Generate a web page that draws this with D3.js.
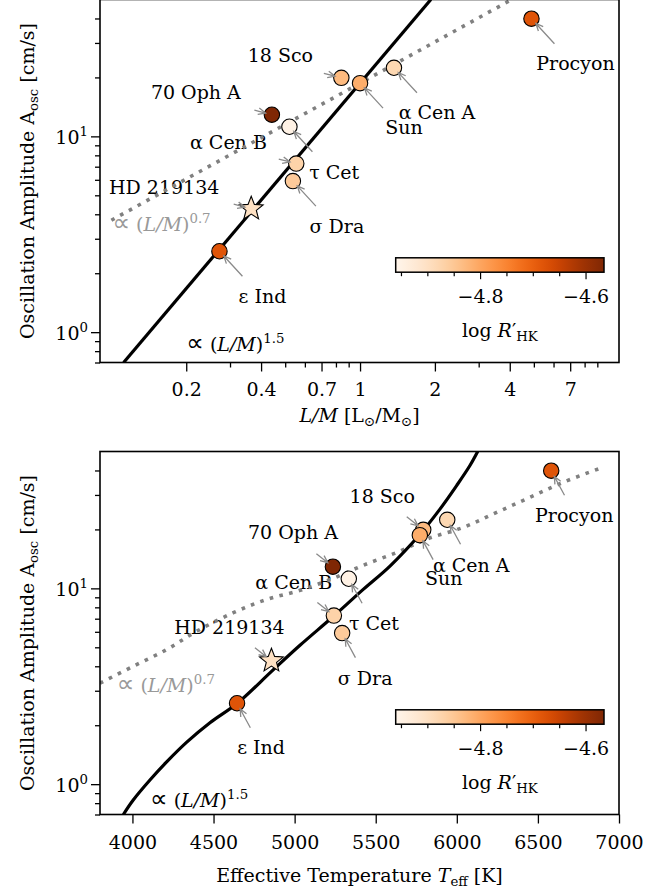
<!DOCTYPE html>
<html>
<head>
<meta charset="utf-8">
<script src="https://cdn.jsdelivr.net/npm/d3@7"></script>
<style>
  body { margin: 0; background: #fff; }
  svg text { font-family: "DejaVu Serif", serif; }
</style>
</head>
<body>
<svg id="chart" width="668" height="893"></svg>
<script>
// 1: DATA
const starNames = ["70 Oph A", "α Cen B", "τ Cet", "σ Dra", "HD 219134", "ε Ind", "18 Sco", "Sun", "α Cen A", "Procyon"];
const lumToMass = [0.442, 0.520, 0.554, 0.537, 0.365, 0.272, 0.841, 1.00, 1.369, 4.89];
const teffK     = [5236, 5334, 5242, 5293, 4857, 4645, 5793, 5772, 5941, 6582];
const ampOsc    = [12.9, 11.2, 7.26, 5.91, 4.27, 2.59, 19.9, 18.7, 22.4, 39.9];
const logRHK    = [-4.56, -4.95, -4.87, -4.855, -4.90, -4.68, -4.83, -4.81, -4.88, -4.68];

// scaling relations vs L/M (top panel)
const steepLM    = [0.112, 1.927];
const steepAmp   = [0.70, 50];
const shallowLM  = [0.10, 4.08];
const shallowAmp = [3.73, 50];

// same relations vs Teff (bottom panel)
const steepTeff    = [3944, 4005, 4108, 4211, 4335, 4478, 4647, 4861, 5033, 5238, 5423, 5588, 5773, 5896, 5999, 6081, 6132];
const steepAmpT    = [0.70, 0.83, 1.05, 1.30, 1.64, 2.06, 2.59, 3.79, 5.12, 7.18, 9.88, 13.0, 18.9, 25.4, 33.5, 42.4, 50.6];
const shallowTeff  = [3800, 4005, 4211, 4396, 4622, 4828, 5034, 5238, 5423, 5629, 5814, 6040, 6246, 6451, 6657, 6903];
const shallowAmpT  = [3.28, 4.00, 4.87, 6.04, 7.51, 8.78, 9.77, 11.25, 13.12, 15.25, 17.84, 20.48, 24.44, 29.18, 34.84, 41.6];

// tick values
const ampMajor  = [1, 10];
const ampMinor  = [0.7, 0.8, 0.9, 2, 3, 4, 5, 6, 7, 8, 9, 20, 30, 40];
const lmMajor   = [0.2, 0.4, 0.7, 1, 2, 4, 7];
const lmMinor   = [0.3, 0.5, 0.6, 0.8, 0.9, 3, 5, 6, 8, 9];
const teffTicks = [4000, 4500, 5000, 5500, 6000, 6500, 7000];
const cbMajor   = [-4.8, -4.6];
const cbMinor   = [-4.95, -4.9, -4.85, -4.75, -4.7, -4.65];
const cbDomain  = [-4.96, -4.565];

// 2: LAYOUT
const plotLeft = 100, plotRight = 619, panelH = 363;
const fs = 19;
const arrowUL = ["70 Oph A", "τ Cet", "HD 219134", "18 Sco"];

// label centre offsets (px) from each marker, per panel
const labelOffTop = [[-76, -16], [-61, 22], [38, 15], [44, 52], [-87, -15], [43, 52], [-61, -16], [44, 51], [43, 51], [44, 51]];
const labelOffBot = [[-40, -28], [-55, 10], [40, 14], [23, 52], [-42, -27], [24, 51], [-41, -27], [24, 50], [24, 52], [23, 51]];

const svg = d3.select("#chart");
const color = d3.scaleSequential(d3.interpolateOranges).domain(cbDomain).clamp(true);

const stars = starNames.map((name, i) => ({
	name, lm: lumToMass[i], teff: teffK[i], amp: ampOsc[i], rhk: logRHK[i]
}));

// text with italic / super / subscript parts
function richText(parent, parts, size) {
	const t = parent.append("text").style("font-size", size + "px");
	let shift = 0;
	parts.forEach(([s, kind, dx]) => {
		const ts = t.append("tspan").text(s);
		let target = 0, fsz = size;
		if (kind === "sup") { target = -0.42 * size; fsz = 0.7 * size; }
		if (kind === "sub") { target = 0.22 * size; fsz = 0.7 * size; }
		if (kind === "it") ts.style("font-style", "italic");
		if (kind === "prop") { fsz = 1.3 * size; ts.style("font-family", "DejaVu Sans, sans-serif"); }
		ts.style("font-size", fsz + "px");
		if (dx) ts.attr("dx", dx);
		if (target !== shift) { ts.attr("dy", target - shift); shift = target; }
	});
	return t;
}

function starPath(R, r) {
	const pts = [];
	for (let k = 0; k < 10; k++) {
		const a = -Math.PI / 2 + k * Math.PI / 5;
		const rad = k % 2 ? r : R;
		pts.push([rad * Math.cos(a), rad * Math.sin(a)]);
	}
	return "M" + pts.map(p => p.join(",")).join("L") + "Z";
}

const panels = [
	{
		top: -0.5, key: "lm",
		x: d3.scaleLog().domain([0.09, 11]).range([plotLeft, plotRight]),
		steep: steepLM.map((v, i) => [v, steepAmp[i]]),
		shallow: shallowLM.map((v, i) => [v, shallowAmp[i]]),
		labelOff: labelOffTop,
		arrLR: [23, 25], arrUL: [-17.5, -4.5],
		greyLab: [0.101, 3.27], blackLab: [0.2, 0.8],
		xlabelY: 421.5
	},
	{
		top: 451.5, key: "teff",
		x: d3.scaleLinear().domain([3800, 7000]).range([plotLeft, plotRight]),
		steep: steepTeff.map((v, i) => [v, steepAmpT[i]]),
		shallow: shallowTeff.map((v, i) => [v, shallowAmpT[i]]),
		labelOff: labelOffBot,
		arrLR: [13.3, 24.5], arrUL: [-16.5, -13],
		greyLab: [3903, 2.97], blackLab: [4108, 0.767],
		xlabelY: 881.5
	}
];

panels.forEach((p, pi) => {
	const x = p.x;
	const y = d3.scaleLog().domain([0.7, 50]).range([p.top + panelH, p.top]);
	const bottom = p.top + panelH;
	const g = svg.append("g");

	g.append("clipPath").attr("id", "clip" + pi)
		.append("rect")
			.attr("x", plotLeft).attr("y", p.top)
			.attr("width", plotRight - plotLeft).attr("height", panelH);

	// 3: STAR LABELS (under the lines, as in the original)
	stars.forEach((s, i) => {
		g.append("text")
			.attr("x", x(s[p.key]) + p.labelOff[i][0])
			.attr("y", y(s.amp) + p.labelOff[i][1])
			.attr("text-anchor", "middle")
			.style("font-size", fs + "px")
			.text(s.name);
	});

	// relation labels
	richText(g, [["∝", "prop"], [" ("], ["L/M", "it"], [")"], ["0.7", "sup"]], fs)
		.attr("x", x(p.greyLab[0])).attr("y", y(p.greyLab[1]))
		.style("fill", "#999");
	richText(g, [["∝", "prop"], [" ("], ["L/M", "it"], [")"], ["1.5", "sup"]], fs)
		.attr("x", x(p.blackLab[0])).attr("y", y(p.blackLab[1]))
		.style("fill", "#000");

	// 4: RELATION CURVES
	const line = d3.line()
		.x(d => x(d[0]))
		.y(d => y(d[1]))
		.curve(d3.curveCatmullRom.alpha(0.5));

	g.append("path")
		.datum(p.shallow)
		.attr("clip-path", `url(#clip${pi})`)
		.attr("d", line)
		.attr("fill", "none")
		.attr("stroke", "#808080")
		.attr("stroke-width", 3.6)
		.attr("stroke-dasharray", "3.6,6.4");

	g.append("path")
		.datum(p.steep)
		.attr("clip-path", `url(#clip${pi})`)
		.attr("d", line)
		.attr("fill", "none")
		.attr("stroke", "#000")
		.attr("stroke-width", 3.2);

	// 5: MARKERS
	stars.forEach(s => {
		const cx = x(s[p.key]), cy = y(s.amp);
		if (s.name === "HD 219134") {
			g.append("path")
				.attr("d", starPath(12.5, 5.4))
				.attr("transform", `translate(${cx},${cy})`)
				.attr("fill", color(s.rhk))
				.attr("stroke", "#000")
				.attr("stroke-width", 1.1);
		} else {
			g.append("circle")
				.attr("cx", cx).attr("cy", cy).attr("r", 7.7)
				.attr("fill", color(s.rhk))
				.attr("stroke", "#000")
				.attr("stroke-width", 1.1);
		}
	});

	// 6: ARROWS
	stars.forEach(s => {
		const cx = x(s[p.key]), cy = y(s.amp);
		const v = arrowUL.includes(s.name) ? p.arrUL : p.arrLR;
		const len = Math.hypot(v[0], v[1]);
		const ux = v[0] / len, uy = v[1] / len;
		const hx = cx + ux * 6.5, hy = cy + uy * 6.5;
		const tx = cx + v[0], ty = cy + v[1];
		const hl = 8, ang = 0.42;
		const wing = a => [hx + hl * (ux * Math.cos(a) - uy * Math.sin(a)), hy + hl * (ux * Math.sin(a) + uy * Math.cos(a))];
		const w1 = wing(ang), w2 = wing(-ang);
		g.append("path")
			.attr("d", `M${tx},${ty}L${hx},${hy}M${w1[0]},${w1[1]}L${hx},${hy}L${w2[0]},${w2[1]}`)
			.attr("fill", "none")
			.attr("stroke", "#8a8a8a")
			.attr("stroke-width", 1.3);
	});

	// 7: AXES
	const yMaj = g.append("g").attr("transform", `translate(${plotLeft},0)`)
		.call(d3.axisLeft(y).tickValues(ampMajor).tickSize(9).tickFormat(""));
	const yMin = g.append("g").attr("transform", `translate(${plotLeft},0)`)
		.call(d3.axisLeft(y).tickValues(ampMinor).tickSize(5).tickFormat(""));

	ampMajor.forEach(v => {
		richText(g, [["10"], [String(Math.round(Math.log10(v))), "sup"]], fs)
			.attr("x", plotLeft - 12).attr("y", y(v) + 8)
			.attr("text-anchor", "end");
	});

	let xMaj, xMin;
	if (p.key === "lm") {
		xMaj = g.append("g").attr("transform", `translate(0,${bottom})`)
			.call(d3.axisBottom(x).tickValues(lmMajor).tickSize(9).tickPadding(11).tickFormat(d3.format("")));
		xMin = g.append("g").attr("transform", `translate(0,${bottom})`)
			.call(d3.axisBottom(x).tickValues(lmMinor).tickSize(5).tickFormat(""));
	} else {
		xMaj = g.append("g").attr("transform", `translate(0,${bottom})`)
			.call(d3.axisBottom(x).tickValues(teffTicks).tickSize(9).tickPadding(12).tickFormat(d3.format("d")));
	}

	[yMaj, yMin, xMaj, xMin].forEach(a => {
		if (!a) return;
		a.select(".domain").remove();
		a.selectAll("line").attr("stroke", "#000").attr("stroke-width", 1.3);
		a.selectAll("text")
			.style("font-family", "DejaVu Serif, serif")
			.style("font-size", fs + "px")
			.attr("fill", "#000");
	});

	// spines
	g.append("rect")
		.attr("x", plotLeft).attr("y", p.top)
		.attr("width", plotRight - plotLeft).attr("height", panelH)
		.attr("fill", "none")
		.attr("stroke", "#000")
		.attr("stroke-width", 1.6);

	// axis labels
	const xl = p.key === "lm"
		? [["L/M", "it"], [" [L"], ["⊙", "sub"], ["/M"], ["⊙", "sub"], ["]"]]
		: [["Effective Temperature "], ["T", "it"], ["eff", "sub"], [" [K]"]];
	richText(g, xl, fs)
		.attr("x", (plotLeft + plotRight) / 2)
		.attr("y", p.xlabelY)
		.attr("text-anchor", "middle");

	richText(g, [["Oscillation Amplitude A"], ["osc", "sub"], [" [cm/s]"]], fs)
		.attr("text-anchor", "middle")
		.attr("transform", `translate(33.5,${p.top + panelH / 2}) rotate(-90)`);

	// 8: COLORBAR
	const cbX = d3.scaleLinear().domain(cbDomain).range([395.7, 604]);
	const cbTop = p.top + 258.3, cbH = 14.4;
	const grad = g.append("defs").append("linearGradient").attr("id", "grad" + pi);
	d3.range(0, 1.0001, 0.05).forEach(t => {
		grad.append("stop")
			.attr("offset", t)
			.attr("stop-color", d3.interpolateOranges(t));
	});
	g.append("rect")
		.attr("x", cbX.range()[0]).attr("y", cbTop)
		.attr("width", cbX.range()[1] - cbX.range()[0]).attr("height", cbH)
		.attr("fill", `url(#grad${pi})`)
		.attr("stroke", "#000")
		.attr("stroke-width", 1.5);

	const cbMaj = g.append("g").attr("transform", `translate(0,${cbTop + cbH})`)
		.call(d3.axisBottom(cbX).tickValues(cbMajor).tickSize(7).tickPadding(10)
			.tickFormat(d => d3.format(".1f")(d).replace("-", "−")));
	const cbMin = g.append("g").attr("transform", `translate(0,${cbTop + cbH})`)
		.call(d3.axisBottom(cbX).tickValues(cbMinor).tickSize(4).tickFormat(""));
	[cbMaj, cbMin].forEach(a => {
		a.select(".domain").remove();
		a.selectAll("line").attr("stroke", "#000").attr("stroke-width", 1.2);
		a.selectAll("text")
			.style("font-family", "DejaVu Serif, serif")
			.style("font-size", fs + "px")
			.attr("fill", "#000");
	});

	richText(g, [["log "], ["R", "it"], ["′"], ["HK", "sub"]], fs)
		.attr("x", (cbX.range()[0] + cbX.range()[1]) / 2)
		.attr("y", cbTop + cbH + 65)
		.attr("text-anchor", "middle");
});
</script>
</body>
</html>
